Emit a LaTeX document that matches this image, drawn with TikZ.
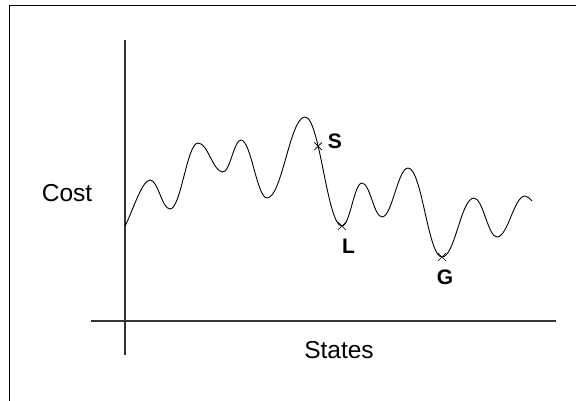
\documentclass[tikz,border=0pt]{standalone}
\usepackage{fontspec}
\setmainfont{Liberation Sans}
\usetikzlibrary{shapes.misc}

\tikzset{
  axisline/.style={line width=1.2pt, black!80},
  landscape/.style={line width=0.9pt, black},
  axislabel/.style={inner sep=0pt, font=\fontsize{24.5}{28}\selectfont},
  pointlabel/.style={inner sep=0pt, font=\fontsize{21}{24}\selectfont\bfseries},
  statemark/.style={cross out, draw, line width=0.7pt, minimum size=7pt, inner sep=0pt}
}

\begin{document}
\begin{tikzpicture}[x=1pt, y=-1pt]
  \useasboundingbox (0,0) rectangle (576,401);
  % frame (only top and left edges show)
  \draw[line width=1.6pt] (9.5,401) -- (9.5,5.5) -- (576,5.5);
  % axes
  \coordinate (ytop) at (125,40);
  \coordinate (ybot) at (125,355);
  \coordinate (xleft) at (91,321);
  \coordinate (xright) at (556,321);
  \draw[axisline] (ytop) -- (ybot);
  \draw[axisline] (xleft) -- (xright);
  % axis labels
  \node[axislabel] (cost) at (67,193.5) {Cost};
  \node[axislabel] (states) at (339,350.5) {States};
  % the cost landscape
  \draw[landscape] (125,226)
    .. controls +(7,-13) and +(-8,0) .. (150,180)
    .. controls +(8,0) and +(-8,0) .. (170,209)
    .. controls +(11,0) and +(-11,0) .. (198,143)
    .. controls +(10,0) and +(-10,0) .. (223,172)
    .. controls +(7,0) and +(-7,0) .. (241,140)
    .. controls +(10,0) and +(-10,0) .. (267,198)
    .. controls +(15,0) and +(-15,0) .. (305,117)
    .. controls +(15,0) and +(-15,0) .. coordinate[pos=0.34] (s) (342,226) coordinate (l)
    .. controls +(8,0) and +(-8,0) .. (362,183)
    .. controls +(8,0) and +(-8,0) .. (382,217)
    .. controls +(10,0) and +(-10,0) .. (408,168)
    .. controls +(14,0) and +(-14,0) .. (442,257) coordinate (g)
    .. controls +(13,0) and +(-13,0) .. (474,198)
    .. controls +(9,0) and +(-9,0) .. (497,237)
    .. controls +(11,0) and +(-11,0) .. (525,196)
    .. controls +(3,0) and +(-2,-2) .. (532,201);
  % marked states
  \node[statemark] at (s) {};
  \node[statemark] at (l) {};
  \node[statemark] at (g) {};
  \node[pointlabel] (S) at (335,141) {S};
  \node[pointlabel] (L) at (348.5,246) {L};
  \node[pointlabel] (G) at (445,277.5) {G};
\end{tikzpicture}
\end{document}
